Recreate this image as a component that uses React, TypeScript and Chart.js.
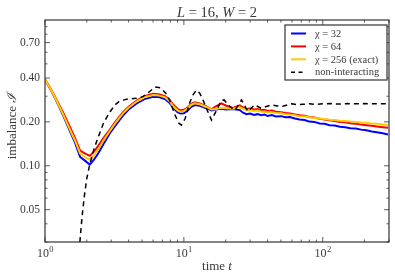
import React, { useEffect, useRef } from 'react';
import { Chart, registerables } from 'chart.js';

Chart.register(...registerables);

// ---- data ----
const tChi = [1, 1.1, 1.2, 1.35, 1.5, 1.65, 1.79, 1.95, 2.1, 2.25, 2.42, 2.65, 2.94, 3.2, 3.46, 3.66, 4.0, 4.57, 5.2, 6.0, 6.6, 7.3, 7.9, 8.4, 9.0, 9.47, 10.0, 10.7, 11.3, 12.0, 13.0, 14.2, 15.4, 15.8, 17.0, 18.6, 20.2, 22.5, 25.3, 26.5, 28.2,
  30, 32, 34, 36, 38, 40, 43, 46, 50, 54, 58, 63, 68, 74, 80, 87, 95, 103, 112, 122, 133, 145, 158, 173, 189, 206, 225, 245, 270, 295];

const chi32 = [0.39, 0.332, 0.282, 0.222, 0.176, 0.143, 0.115, 0.108, 0.102, 0.110, 0.122, 0.142, 0.168, 0.188, 0.207, 0.222, 0.243, 0.268, 0.287, 0.297, 0.296, 0.287, 0.270, 0.249, 0.233, 0.228, 0.229, 0.240, 0.254, 0.261, 0.258, 0.250, 0.243, 0.240, 0.243, 0.246, 0.243, 0.245, 0.241, 0.232, 0.226,
  0.228, 0.223, 0.226, 0.222, 0.225, 0.220, 0.223, 0.218, 0.219, 0.215, 0.216, 0.211, 0.208, 0.206, 0.201, 0.200, 0.195, 0.194, 0.190, 0.189, 0.185, 0.184, 0.181, 0.180, 0.177, 0.175, 0.172, 0.170, 0.167, 0.164];

const chi64 = [0.39, 0.337, 0.288, 0.232, 0.188, 0.154, 0.127, 0.121, 0.117, 0.125, 0.137, 0.156, 0.178, 0.199, 0.219, 0.234, 0.254, 0.280, 0.300, 0.312, 0.310, 0.300, 0.283, 0.262, 0.246, 0.240, 0.242, 0.252, 0.266, 0.273, 0.268, 0.258, 0.248, 0.244, 0.256, 0.268, 0.258, 0.249, 0.260, 0.252, 0.245,
  0.247, 0.243, 0.245, 0.241, 0.242, 0.238, 0.239, 0.235, 0.233, 0.230, 0.228, 0.225, 0.222, 0.220, 0.216, 0.214, 0.210, 0.208, 0.205, 0.203, 0.200, 0.199, 0.196, 0.194, 0.192, 0.190, 0.188, 0.186, 0.184, 0.182];

const chi256 = [0.39, 0.335, 0.285, 0.225, 0.180, 0.148, 0.121, 0.114, 0.110, 0.118, 0.130, 0.150, 0.174, 0.195, 0.215, 0.230, 0.250, 0.276, 0.295, 0.306, 0.304, 0.295, 0.277, 0.255, 0.240, 0.235, 0.237, 0.248, 0.262, 0.268, 0.264, 0.255, 0.247, 0.243, 0.245, 0.250, 0.248, 0.246, 0.252, 0.247, 0.240,
  0.241, 0.238, 0.239, 0.235, 0.236, 0.233, 0.233, 0.230, 0.229, 0.226, 0.224, 0.222, 0.219, 0.218, 0.215, 0.213, 0.211, 0.209, 0.207, 0.206, 0.204, 0.203, 0.201, 0.200, 0.198, 0.197, 0.195, 0.194, 0.192, 0.190];

const tFree = [1.76, 1.85, 1.92, 2.0, 2.1, 2.25, 2.42, 2.65, 2.94, 3.2, 3.46, 3.95, 4.5, 5.07, 5.6, 6.2, 6.8, 7.4, 7.9, 8.6, 9.2, 9.6, 10.2, 11.0, 11.6, 12.3, 13.0, 13.8, 14.6, 15.8, 17.0, 18.6, 19.5, 21.4, 23.3, 26.0, 28.9, 32.4, 36.0,
  42.8, 47, 51.5, 56, 60, 66, 72, 80, 90, 100, 115, 130, 150, 175, 200, 240, 300];
const free = [0.026, 0.045, 0.062, 0.082, 0.102, 0.130, 0.158, 0.198, 0.235, 0.262, 0.279, 0.287, 0.290, 0.298, 0.320, 0.347, 0.342, 0.315, 0.282, 0.225, 0.196, 0.190, 0.210, 0.270, 0.305, 0.330, 0.315, 0.280, 0.245, 0.206, 0.235, 0.280, 0.283, 0.255, 0.240, 0.283, 0.236, 0.262, 0.248,
  0.262, 0.257, 0.256, 0.262, 0.266, 0.262, 0.264, 0.266, 0.264, 0.266, 0.267, 0.265, 0.267, 0.266, 0.267, 0.266, 0.266];

const yTickLabels = [0.05, 0.1, 0.2, 0.4, 0.7];
const yMinorTicks = [0.03, 0.04, 0.06, 0.07, 0.08, 0.09, 0.3, 0.5, 0.6, 0.8, 0.9];
const xMajorTicks = [1, 10, 100];
const xMinorTicks = [2, 3, 4, 5, 6, 7, 8, 9, 20, 30, 40, 50, 60, 70, 80, 90, 200, 300];

const legendItems = [
  { label: 'χ = 32', color: '#0000ff', dash: false },
  { label: 'χ = 64', color: '#ff0000', dash: false },
  { label: 'χ = 256 (exact)', color: '#ffcc00', dash: false },
  { label: 'non-interacting', color: '#000000', dash: true },
];

const SERIF = '"Liberation Serif", "DejaVu Serif", serif';
const TEXT = '#3a3a3a';

const zip = (xs: number[], ys: number[]) => xs.map((x, i) => ({ x, y: ys[i] }));

function drawSegs(ctx: CanvasRenderingContext2D, segs: [string, string][], x: number, y: number) {
  let total = 0;
  const ws = segs.map(([t, f]) => {
    ctx.font = f;
    const w = ctx.measureText(t).width;
    total += w;
    return w;
  });
  let cx = x - total / 2;
  ctx.textAlign = 'left';
  segs.forEach(([t, f], i) => {
    ctx.font = f;
    ctx.fillText(t, cx, y);
    cx += ws[i];
  });
}

const decor = {
  id: 'decor',
  afterDatasetsDraw(chart: any) {
    const { ctx, chartArea: a } = chart;
    const xs = chart.scales.x;
    const ys = chart.scales.y;
    ctx.save();
    // frame
    ctx.strokeStyle = '#333';
    ctx.lineWidth = 1.2;
    ctx.setLineDash([]);
    ctx.strokeRect(a.left, a.top, a.right - a.left, a.bottom - a.top);
    // ticks
    ctx.lineWidth = 0.8;
    const xt = (v: number, len: number) => {
      const p = xs.getPixelForValue(v);
      if (p < a.left - 0.5 || p > a.right + 0.5) return;
      ctx.beginPath();
      ctx.moveTo(p, a.bottom); ctx.lineTo(p, a.bottom - len);
      ctx.moveTo(p, a.top); ctx.lineTo(p, a.top + len);
      ctx.stroke();
    };
    const yt = (v: number, len: number) => {
      const p = ys.getPixelForValue(v);
      if (p < a.top - 0.5 || p > a.bottom + 0.5) return;
      ctx.beginPath();
      ctx.moveTo(a.left, p); ctx.lineTo(a.left + len, p);
      ctx.moveTo(a.right, p); ctx.lineTo(a.right - len, p);
      ctx.stroke();
    };
    xMajorTicks.forEach((v) => xt(v, 5));
    xMinorTicks.forEach((v) => xt(v, 2.5));
    yTickLabels.forEach((v) => yt(v, 5));
    yMinorTicks.forEach((v) => yt(v, 2.5));

    ctx.fillStyle = TEXT;
    ctx.textBaseline = 'alphabetic';
    // x tick labels 10^n
    xMajorTicks.forEach((v) => {
      const p = xs.getPixelForValue(v);
      const exp = String(Math.round(Math.log10(v)));
      ctx.font = `12px ${SERIF}`;
      const w1 = ctx.measureText('10').width;
      ctx.font = `8.5px ${SERIF}`;
      const w2 = ctx.measureText(exp).width;
      const sx = p - (w1 + w2) / 2;
      ctx.textAlign = 'left';
      ctx.font = `12px ${SERIF}`;
      ctx.fillText('10', sx, a.bottom + 14.5);
      ctx.font = `8.5px ${SERIF}`;
      ctx.fillText(exp, sx + w1 + 0.3, a.bottom + 9.5);
    });
    // x title
    drawSegs(ctx, [['time ', `13px ${SERIF}`], ['t', `italic 13px ${SERIF}`]], (a.left + a.right) / 2, 270);
    // title
    drawSegs(ctx, [
      ['L', `italic 14.5px ${SERIF}`],
      [' = 16, ', `14.5px ${SERIF}`],
      ['W', `italic 14.5px ${SERIF}`],
      [' = 2', `14.5px ${SERIF}`],
    ], (a.left + a.right) / 2, 16.5);
    // y title
    ctx.save();
    ctx.translate(15.5, (a.top + a.bottom) / 2 - 5);
    ctx.rotate(-Math.PI / 2);
    drawSegs(ctx, [['imbalance ', `13px ${SERIF}`], ['ℐ', `italic 13px ${SERIF}`]], 0, 0);
    ctx.restore();

    // legend
    const lw = 102, lh = 55;
    const lx = a.right - 2 - lw, ly = a.top + 5;
    ctx.fillStyle = '#ffffff';
    ctx.fillRect(lx, ly, lw, lh);
    ctx.strokeStyle = '#333';
    ctx.lineWidth = 1.2;
    ctx.strokeRect(lx, ly, lw, lh);
    legendItems.forEach((it, i) => {
      const cy = ly + 8.5 + i * 12.9;
      ctx.beginPath();
      ctx.strokeStyle = it.color;
      ctx.lineWidth = it.dash ? 1.6 : 2;
      ctx.setLineDash(it.dash ? [4, 3.5] : []);
      ctx.moveTo(lx + 6, cy);
      ctx.lineTo(lx + 21, cy);
      ctx.stroke();
      ctx.setLineDash([]);
      ctx.fillStyle = TEXT;
      ctx.font = `10.5px ${SERIF}`;
      ctx.textAlign = 'left';
      ctx.textBaseline = 'middle';
      ctx.fillText(it.label, lx + 30, cy + 0.5);
    });
    ctx.restore();
  },
};

export default function App() {
  const ref = useRef<HTMLCanvasElement | null>(null);
  useEffect(() => {
    if (!ref.current) return;
    const chart = new Chart(ref.current, {
      type: 'line',
      data: {
        datasets: [
          { label: 'non-interacting', data: zip(tFree, free), borderColor: '#000000', borderWidth: 1.5, borderDash: [5, 4], pointRadius: 0, fill: false, tension: 0 },
          { label: 'χ = 256 (exact)', data: zip(tChi, chi256), borderColor: '#ffcc00', borderWidth: 2, pointRadius: 0, fill: false, tension: 0 },
          { label: 'χ = 64', data: zip(tChi, chi64), borderColor: '#ff0000', borderWidth: 2, pointRadius: 0, fill: false, tension: 0 },
          { label: 'χ = 32', data: zip(tChi, chi32), borderColor: '#0000ff', borderWidth: 2, pointRadius: 0, fill: false, tension: 0 },
        ],
      },
      options: {
        responsive: false,
        animation: false,
        events: [],
        layout: { padding: { left: 0, right: 6, top: 20, bottom: 0 } },
        plugins: { legend: { display: false }, title: { display: false }, tooltip: { enabled: false } },
        scales: {
          x: {
            type: 'logarithmic',
            min: 1,
            max: 300,
            grid: { display: false, drawTicks: false },
            border: { display: false },
            ticks: { display: false },
            afterFit: (s: any) => { s.height = 36; },
          },
          y: {
            type: 'logarithmic',
            min: 0.03,
            max: 1.0,
            grid: { display: false, drawTicks: false },
            border: { display: false },
            afterBuildTicks: (s: any) => { s.ticks = yTickLabels.map((v) => ({ value: v })); },
            ticks: {
              autoSkip: false,
              padding: 5,
              color: TEXT,
              font: { family: SERIF, size: 11.5 },
              callback: (v: any) => Number(v).toFixed(2),
            },
            afterFit: (s: any) => { s.width = 45; },
          },
        },
      },
      plugins: [decor],
    });
    return () => chart.destroy();
  }, []);
  return (
    <div style={{ position: 'absolute', left: 0, top: 0, width: 395, height: 278, background: '#fff' }}>
      <canvas ref={ref} width={395} height={278} style={{ display: 'block' }} />
    </div>
  );
}
